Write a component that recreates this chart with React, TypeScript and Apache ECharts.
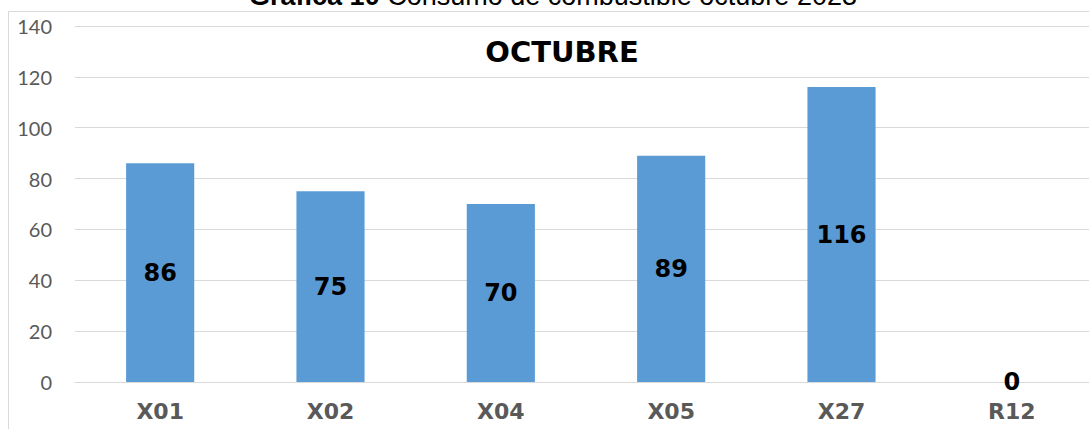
import React, { useEffect, useRef } from "react";
import * as echarts from "echarts";

const categories = ["X01", "X02", "X04", "X05", "X27", "R12"];
const values = [86, 75, 70, 89, 116, 0];
const yTicks = [0, 20, 40, 60, 80, 100, 120, 140];
const chartTitleBold = "Gráfica 10";
const chartTitleRest = " Consumo de combustible octubre 2023";
const innerTitle = "OCTUBRE";

export default function App() {
  const ref = useRef<HTMLDivElement>(null);
  useEffect(() => {
    document.body.style.margin = "0";
    document.body.style.overflow = "hidden";
    const chart = echarts.init(ref.current!, null, { renderer: "svg" });
    chart.setOption({
      animation: false,
      backgroundColor: "#ffffff",
      grid: { left: 75, right: 0, top: 26, bottom: 47, containLabel: false },
      xAxis: {
        type: "category",
        data: categories,
        axisLine: { show: true, lineStyle: { color: "#d9d9d9", width: 1 } },
        axisTick: { show: false },
        axisLabel: {
          color: "#595959",
          fontFamily: "DejaVu Sans",
          fontWeight: "bold",
          fontSize: 22,
          margin: 18,
        },
      },
      yAxis: {
        type: "value",
        min: yTicks[0],
        max: yTicks[yTicks.length - 1],
        interval: 20,
        axisLine: { show: false },
        axisTick: { show: false },
        splitLine: { lineStyle: { color: "#d9d9d9", width: 1 } },
        axisLabel: {
          color: "#595959",
          fontFamily: "Lato",
          fontSize: 20,
          margin: 23,
        },
      },
      series: [
        {
          type: "bar",
          data: values,
          barWidth: "40%",
          itemStyle: { color: "#5b9bd5" },
          label: {
            show: true,
            position: "inside",
            color: "#000000",
            fontFamily: "DejaVu Sans",
            fontWeight: "bold",
            fontSize: 24,
          },
        },
      ],
      graphic: [
        {
          type: "line",
          shape: { x1: 8.5, y1: 11.5, x2: 1097, y2: 11.5 },
          style: { stroke: "#d9d9d9", lineWidth: 1 },
          z: 10,
        },
        {
          type: "line",
          shape: { x1: 8.5, y1: 11.5, x2: 8.5, y2: 429 },
          style: { stroke: "#d9d9d9", lineWidth: 1 },
          z: 10,
        },
        {
          type: "text",
          x: 553,
          y: -4,
          style: {
            text: "{b|" + chartTitleBold + "}{r|" + chartTitleRest + "}",
            align: "center",
            verticalAlign: "middle",
            rich: {
              b: { fontFamily: "Liberation Sans", fontWeight: "bold", fontSize: 27, fill: "#000" },
              r: { fontFamily: "Liberation Sans", fontSize: 27, fill: "#000" },
            },
          },
          z: 10,
        },
        {
          type: "text",
          x: 562,
          y: 52,
          style: {
            text: innerTitle,
            align: "center",
            verticalAlign: "middle",
            fontFamily: "DejaVu Sans",
            fontWeight: "bold",
            fontSize: 29,
            fill: "#000",
          },
          z: 10,
        },
      ],
    });
    return () => chart.dispose();
  }, []);
  return (
    <div
      style={{ position: "absolute", left: 0, top: 0, width: 1089, height: 429, overflow: "hidden" }}
    >
      <div ref={ref} style={{ width: 1097, height: 429 }} />
    </div>
  );
}
